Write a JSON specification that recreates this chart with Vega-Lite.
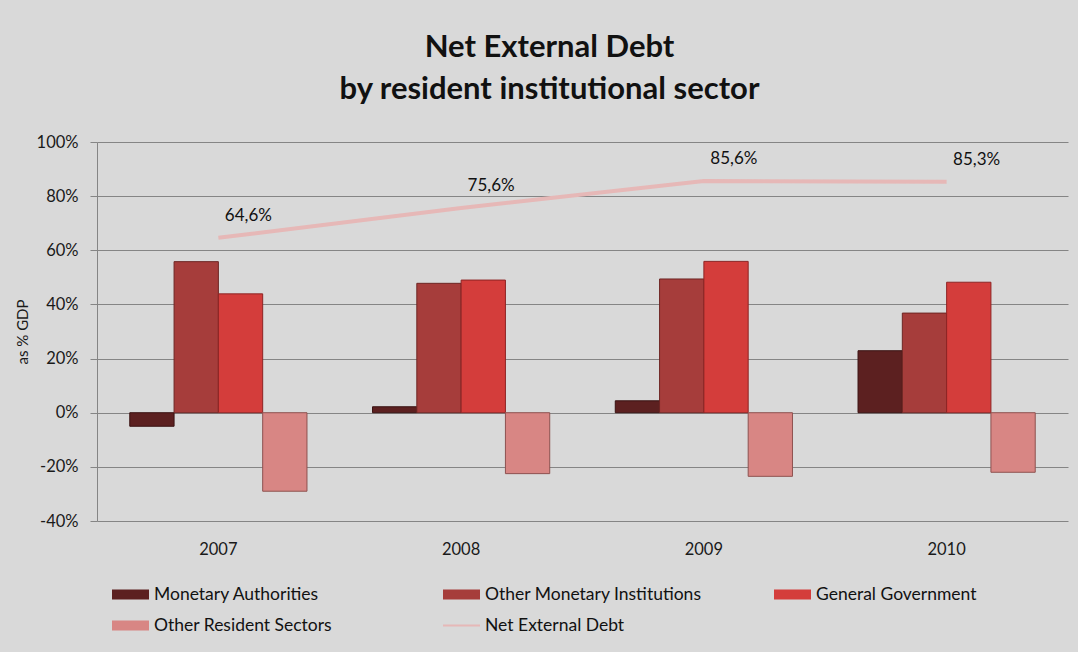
{
  "$schema": "https://vega.github.io/schema/vega-lite/v6.json",
  "width": 971,
  "height": 379,
  "autosize": {"type": "none"},
  "padding": {"left": 97, "top": 142, "right": 10, "bottom": 131},
  "background": "#d9d9d9",
  "title": {
    "text": ["Net External Debt", "by resident institutional sector"],
    "font": "Lato",
    "fontSize": 31,
    "fontWeight": "bold",
    "color": "#111111",
    "lineHeight": 42,
    "offset": 28,
    "dx": -33,
    "anchor": "middle"
  },
  "config": {
    "locale": {"number": {"decimal": ",", "thousands": ".", "grouping": [3], "currency": ["", "€"], "minus": "-"}},
    "view": {"stroke": null},
    "font": "Lato"
  },
  "datasets": {
    "bars": [
      {"year": "2007", "series": "Monetary Authorities", "value": -0.05},
      {"year": "2007", "series": "Other Monetary Institutions", "value": 0.558},
      {"year": "2007", "series": "General Government", "value": 0.439},
      {"year": "2007", "series": "Other Resident Sectors", "value": -0.29},
      {"year": "2008", "series": "Monetary Authorities", "value": 0.022},
      {"year": "2008", "series": "Other Monetary Institutions", "value": 0.478},
      {"year": "2008", "series": "General Government", "value": 0.49},
      {"year": "2008", "series": "Other Resident Sectors", "value": -0.225},
      {"year": "2009", "series": "Monetary Authorities", "value": 0.044},
      {"year": "2009", "series": "Other Monetary Institutions", "value": 0.494},
      {"year": "2009", "series": "General Government", "value": 0.559},
      {"year": "2009", "series": "Other Resident Sectors", "value": -0.235},
      {"year": "2010", "series": "Monetary Authorities", "value": 0.229},
      {"year": "2010", "series": "Other Monetary Institutions", "value": 0.368},
      {"year": "2010", "series": "General Government", "value": 0.482},
      {"year": "2010", "series": "Other Resident Sectors", "value": -0.22}
    ],
    "debt": [
      {"year": "2007", "series": "Net External Debt", "value": 0.646},
      {"year": "2008", "series": "Net External Debt", "value": 0.756},
      {"year": "2009", "series": "Net External Debt", "value": 0.856},
      {"year": "2010", "series": "Net External Debt", "value": 0.853}
    ]
  },
  "encoding": {
    "x": {
      "field": "year",
      "type": "nominal",
      "scale": {"paddingInner": 0.27, "paddingOuter": 0.135},
      "axis": {
        "title": null,
        "labelAngle": 0,
        "domain": false,
        "ticks": false,
        "labelPadding": 20,
        "labelFont": "Lato",
        "labelFontSize": 16.5,
        "labelColor": "#1a1a1a"
      }
    },
    "y": {
      "field": "value",
      "type": "quantitative",
      "scale": {"domain": [-0.4, 1.0], "nice": false, "zero": false},
      "axis": {
        "title": "as % GDP",
        "titleFont": "Lato",
        "titleFontSize": 15,
        "titleFontWeight": "normal",
        "titleColor": "#1a1a1a",
        "titlePadding": 6,
        "format": ".0%",
        "values": [-0.4, -0.2, 0, 0.2, 0.4, 0.6, 0.8, 1.0],
        "labelFont": "Lato",
        "labelFontSize": 16.5,
        "labelColor": "#1a1a1a",
        "labelPadding": 12,
        "tickSize": 7,
        "tickColor": "#858585",
        "domainColor": "#858585",
        "grid": true,
        "gridColor": "#858585",
        "gridOpacity": 1
      }
    }
  },
  "layer": [
    {
      "data": {"name": "bars"},
      "mark": {"type": "bar", "strokeWidth": 1},
      "encoding": {
        "xOffset": {
          "field": "series",
          "type": "nominal",
          "sort": ["Monetary Authorities", "Other Monetary Institutions", "General Government", "Other Resident Sectors"],
          "scale": {"paddingInner": 0, "paddingOuter": 0}
        },
        "color": {
          "field": "series",
          "type": "nominal",
          "scale": {
            "domain": ["Monetary Authorities", "Other Monetary Institutions", "General Government", "Other Resident Sectors", "Net External Debt"],
            "range": ["#5c2020", "#a63d3b", "#d43d3b", "#d88684", "#e6b8b7"]
          },
          "legend": {
            "orient": "none",
            "legendX": 15,
            "legendY": 434,
            "direction": "horizontal",
            "columns": 3,
            "title": null,
            "columnPadding": 72,
            "rowPadding": 4,
            "gridAlign": "all",
            "labelFont": "Lato",
            "labelFontSize": 17.5,
            "labelColor": "#111111",
            "labelLimit": 500,
            "labelOffset": 5,
            "symbolSize": 1369,
            "symbolType": "M-1,-0.27H1V0.27H-1Z",
            "encode": {
              "symbols": {
                "update": {
                  "shape": {"signal": "datum.value === 'Net External Debt' ? 'M-1,-0.05H1V0.05H-1Z' : 'M-1,-0.27H1V0.27H-1Z'"},
                  "fill": {"scale": "color", "field": "value"},
                  "fillOpacity": {"value": 1},
                  "strokeWidth": {"value": 0}
                }
              }
            }
          }
        },
        "stroke": {
          "field": "series",
          "type": "nominal",
          "scale": {
            "domain": ["Monetary Authorities", "Other Monetary Institutions", "General Government", "Other Resident Sectors"],
            "range": ["#3a1212", "#6e2624", "#8e2424", "#8e5250"]
          },
          "legend": null
        }
      }
    },
    {
      "data": {"name": "debt"},
      "mark": {"type": "line", "strokeWidth": 4},
      "encoding": {
        "color": {"field": "series", "type": "nominal"}
      }
    },
    {
      "data": {"name": "debt"},
      "mark": {"type": "text", "dx": 30, "dy": -22, "font": "Lato", "fontSize": 17, "color": "#111111"},
      "encoding": {
        "text": {"field": "value", "type": "quantitative", "format": ".1%"}
      }
    }
  ]
}
